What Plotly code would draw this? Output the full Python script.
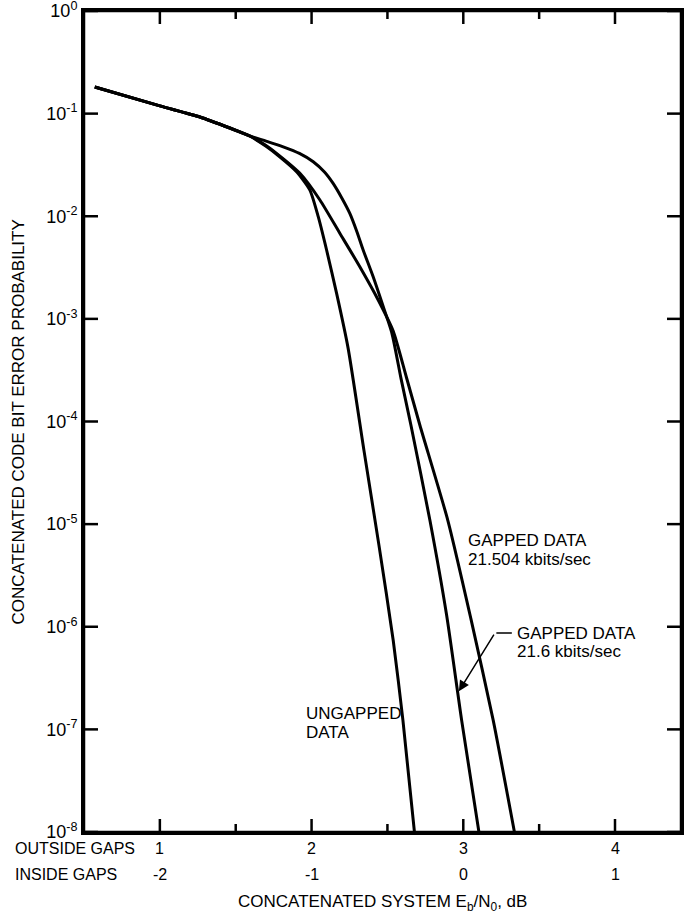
import plotly.graph_objects as go

# ---- data (x = concatenated system Eb/N0, dB, "outside gaps" scale) ----
ungapped_x = [0.571, 1.0, 1.264, 1.461, 1.593, 1.700, 1.790, 1.901, 1.989, 2.044, 2.099, 2.165, 2.241, 2.345, 2.444, 2.538, 2.602, 2.678]
ungapped_p = [0.182, 0.119, 0.0927, 0.0724, 0.0605, 0.048, 0.038, 0.0272, 0.018, 9.9e-3, 4.69e-3, 1.77e-3, 5.16e-4, 5.26e-5, 6.24e-6, 7.4e-7, 1.23e-7, 1e-8]

gap216_x = [0.571, 1.0, 1.264, 1.461, 1.593, 1.700, 1.813, 1.920, 2.011, 2.085, 2.142, 2.200, 2.252, 2.300, 2.340, 2.406, 2.465, 2.530, 2.590, 2.655, 2.780, 2.890, 2.989, 3.103]
gap216_p = [0.182, 0.119, 0.0927, 0.0724, 0.0605, 0.0540, 0.0475, 0.0410, 0.034, 0.0270, 0.0209, 0.0150, 0.01067, 7.0e-3, 4.69e-3, 2.57e-3, 1.42e-3, 7.2e-4, 2.6e-4, 9.2e-5, 1.09e-5, 1.3e-6, 1.23e-7, 1e-8]

gap21504_x = [0.571, 1.0, 1.264, 1.461, 1.593, 1.690, 1.769, 1.923, 2.055, 2.187, 2.318, 2.440, 2.538, 2.625, 2.714, 2.898, 3.050, 3.197, 3.337]
gap21504_p = [0.182, 0.119, 0.0927, 0.0724, 0.0605, 0.050, 0.041, 0.0262, 0.0144, 6.8e-3, 3.22e-3, 1.52e-3, 7.6e-4, 2.7e-4, 9.2e-5, 1.09e-5, 1.2e-6, 1.23e-7, 1e-8]

outside_ticks = [1, 2, 3, 4]
half_ticks = [1.5, 2.5, 3.5]
inside_labels = ["-2", "-1", "0", "1"]
y_tickvals = [1, 1e-1, 1e-2, 1e-3, 1e-4, 1e-5, 1e-6, 1e-7, 1e-8]
y_ticktext = ["10<sup>0</sup>", "10<sup>-1</sup>", "10<sup>-2</sup>", "10<sup>-3</sup>",
              "10<sup>-4</sup>", "10<sup>-5</sup>", "10<sup>-6</sup>", "10<sup>-7</sup>",
              "10<sup>-8</sup>"]

FONT = "Liberation Sans, Arial, sans-serif"
W, H = 689, 915
ML, MR, MT, MB = 84, 8, 11, 83
PW, PH = W - ML - MR, H - MT - MB
X_RANGE = [0.5, 4.435]
Y_RANGE_LOG = [-8, 0]
line_style = dict(color="black", width=3, shape="spline", smoothing=0.6)

fig = go.Figure()
for xs, ps, name in [(ungapped_x, ungapped_p, "UNGAPPED DATA"),
                     (gap216_x, gap216_p, "GAPPED DATA 21.6 kbits/sec"),
                     (gap21504_x, gap21504_p, "GAPPED DATA 21.504 kbits/sec")]:
    fig.add_trace(go.Scatter(x=xs, y=ps, mode="lines", line=line_style, name=name,
                             showlegend=False, hoverinfo="skip"))

# ---- inward ticks, drawn as line traces through the axes' own scales ----
x_per_px = (X_RANGE[1] - X_RANGE[0]) / PW
dec_per_px = (Y_RANGE_LOG[1] - Y_RANGE_LOG[0]) / PH
ylo, yhi = 10 ** Y_RANGE_LOG[0], 10 ** Y_RANGE_LOG[1]

tx, ty = [], []
for vals, ln in [(outside_ticks, 13), (half_ticks, 8)]:
    for v in vals:
        tx += [v, v, None, v, v, None]
        ty += [ylo, 10 ** (Y_RANGE_LOG[0] + ln * dec_per_px), None,
               yhi, 10 ** (Y_RANGE_LOG[1] - ln * dec_per_px), None]
for v in y_tickvals:
    tx += [X_RANGE[0], X_RANGE[0] + 14 * x_per_px, None, X_RANGE[1], X_RANGE[1] - 14 * x_per_px, None]
    ty += [v, v, None, v, v, None]
fig.add_trace(go.Scatter(x=tx, y=ty, mode="lines", line=dict(color="#000000", width=2.5),
                         connectgaps=False, showlegend=False, hoverinfo="skip"))

fig.update_layout(
    width=W, height=H,
    margin=dict(l=ML, r=MR, t=MT, b=MB, autoexpand=False),
    paper_bgcolor="#ffffff", plot_bgcolor="#ffffff",
    font=dict(family=FONT, color="#000000", size=16),
    showlegend=False,
    xaxis=dict(range=X_RANGE, showgrid=False, zeroline=False,
               showline=True, linecolor="#000000", linewidth=3, mirror=True,
               ticks="", showticklabels=False),
    yaxis=dict(type="log", range=Y_RANGE_LOG, showgrid=False, zeroline=False,
               showline=True, linecolor="#000000", linewidth=3, mirror=True,
               ticks="", tickvals=y_tickvals, ticktext=y_ticktext,
               tickfont=dict(size=18, family=FONT, color="#000000"),
               ticklabeloverflow="allow"),
    shapes=[dict(type="rect", xref="paper", yref="paper", x0=0, x1=1, y0=0, y1=1,
                 line=dict(color="#000000", width=2.5), fillcolor="rgba(0,0,0,0)", layer="above")],
)

ann = []
# x tick labels (two rows)
for v, lab in zip(outside_ticks, inside_labels):
    ann.append(dict(x=v, xref="x", y=0, yref="paper", yshift=-16, text=str(v),
                    showarrow=False, xanchor="center", yanchor="middle",
                    font=dict(size=16, family=FONT)))
    ann.append(dict(x=v, xref="x", y=0, yref="paper", yshift=-42, text=lab,
                    showarrow=False, xanchor="center", yanchor="middle",
                    font=dict(size=16, family=FONT)))
ann.append(dict(x=-0.119, xref="paper", y=0, yref="paper", yshift=-16, text="OUTSIDE GAPS",
                showarrow=False, xanchor="left", yanchor="middle", font=dict(size=16, family=FONT)))
ann.append(dict(x=-0.119, xref="paper", y=0, yref="paper", yshift=-42, text="INSIDE GAPS",
                showarrow=False, xanchor="left", yanchor="middle", font=dict(size=16, family=FONT)))
# axis titles
ann.append(dict(x=0.5, xref="paper", y=0, yref="paper", yshift=-71,
                text="CONCATENATED SYSTEM E<sub>b</sub>/N<sub>0</sub>, dB",
                showarrow=False, xanchor="center", yanchor="middle", font=dict(size=17, family=FONT)))
ann.append(dict(x=-0.109, xref="paper", y=0.5, yref="paper",
                text="CONCATENATED CODE BIT ERROR PROBABILITY", textangle=-90,
                showarrow=False, xanchor="center", yanchor="middle", font=dict(size=17, family=FONT)))
# curve labels (y in log10 units for log axis)
for txt, x, y in [("GAPPED DATA", 3.017, -5.156), ("21.504 kbits/sec", 3.017, -5.341),
                  ("GAPPED DATA", 3.340, -6.062), ("21.6 kbits/sec", 3.340, -6.238),
                  ("UNGAPPED", 1.949, -6.842), ("DATA", 1.949, -7.027)]:
    ann.append(dict(x=x, y=y, xref="x", yref="y", text=txt, showarrow=False,
                    xanchor="left", yanchor="middle", font=dict(size=17, family=FONT)))
# leader with arrow to the 21.6 kbits/sec curve
ann.append(dict(x=3.320, y=-6.062, xref="x", yref="y", ax=3.208, ay=-6.062, axref="x", ayref="y",
                text="", showarrow=True, arrowhead=0, arrowwidth=1.5, arrowcolor="black"))
ann.append(dict(x=2.971, y=-6.628, xref="x", yref="y", ax=3.208, ay=-6.062, axref="x", ayref="y",
                text="", showarrow=True, arrowhead=2, arrowsize=1.4, arrowwidth=1.5,
                arrowcolor="black", standoff=0))
fig.update_layout(annotations=ann)

fig.write_html("out.html")
